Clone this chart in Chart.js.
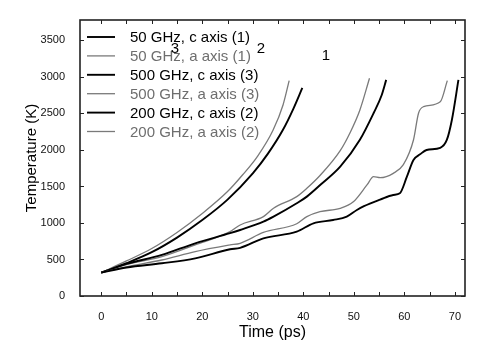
<!DOCTYPE html>
<html>
<head>
<meta charset="utf-8">
<script src="https://cdn.jsdelivr.net/npm/chart.js@4.4.0/dist/chart.umd.min.js"></script>
<style>
  html, body { margin: 0; padding: 0; background: #fff; }
  #wrap { width: 480px; height: 356px; }
</style>
</head>
<body>
<div id="wrap"><canvas id="c" width="480" height="356"></canvas></div>
<script>
// ---- data ----
const xTicks = [0, 10, 20, 30, 40, 50, 60, 70];
const yTicks = [0, 500, 1000, 1500, 2000, 2500, 3000, 3500];

const seriesLabels = [
  "50 GHz, c axis (1)", "50 GHz, a axis (1)",
  "500 GHz, c axis (3)", "500 GHz, a axis (3)",
  "200 GHz, c axis (2)", "200 GHz, a axis (2)"
];

const t_50c = [0,5,12,18.6,25.5,27.5,32.1,38.7,42,45.9,48.6,50.6,52,55.2,57.8,59.1,60.5,61.8,63.1,64.4,67.1,68.4,69.4,70.7];
const T_50c = [320,390,448,516,640,660,790,881,996,1041,1087,1178,1230,1320,1384,1407,1634,1863,1940,2000,2030,2137,2411,2959];

const t_50a = [0,5,12,18.6,25.5,27.5,32.1,38.7,40.7,43.3,47.3,49.9,52.6,53.9,55.2,57.8,59.8,61.8,62.8,63.8,67.1,68.5];
const T_50a = [320,400,493,607,699,722,870,990,1087,1155,1200,1290,1521,1634,1620,1680,1800,2137,2503,2593,2660,2950];

const t_500c = [0,5,10,15,20,25,30,33,36,38,39.8];
const T_500c = [320,450,600,800,1040,1320,1680,1950,2280,2560,2850];

const t_500a = [0,5,10,15,20,25,28,31,34,36,37.2];
const T_500a = [320,480,650,870,1130,1430,1660,1920,2270,2620,2950];

const t_200c = [0,5,12,18.6,25.5,27.5,32.1,34.1,38.7,40.7,43.5,47.3,51.2,53.9,55.5,56.4];
const T_200c = [320,440,562,722,860,904,1018,1087,1270,1361,1530,1772,2140,2503,2750,2960];

const t_200a = [0,5,12,18.6,25.5,27.5,32.1,34.1,38.7,40.7,43.3,47.3,49.2,51.2,53.1];
const T_200a = [320,430,539,700,881,973,1087,1201,1361,1475,1650,1990,2229,2548,2982];

const curveTags = ["3", "2", "1"];

// ---- build ----
const pts = (ts, Ts) => ts.map((t, i) => ({ x: t, y: Ts[i] }));
const BLACK = "#000000", GRAY = "#7a7a7a";
const seriesData = [
  pts(t_50c, T_50c), pts(t_50a, T_50a),
  pts(t_500c, T_500c), pts(t_500a, T_500a),
  pts(t_200c, T_200c), pts(t_200a, T_200a)
];
const datasets = seriesData.map((d, i) => {
  const isC = i % 2 === 0;
  return {
    label: seriesLabels[i],
    data: d,
    borderColor: isC ? BLACK : GRAY,
    borderWidth: isC ? 1.9 : 1.3,
    pointRadius: 0,
    fill: false,
    tension: 0.3,
    cubicInterpolationMode: 'monotone'
  };
});

const FONT = "Arial, 'Liberation Sans', sans-serif";

const framePlugin = {
  id: 'frame',
  afterDatasetsDraw(chart) {
    const { ctx, chartArea: a, scales: { x, y } } = chart;
    ctx.save();
    ctx.strokeStyle = '#222';
    ctx.lineWidth = 1.6;
    ctx.strokeRect(a.left, a.top, a.right - a.left, a.bottom - a.top);
    ctx.lineWidth = 1;
    const tl = 4;
    for (let v = 0; v <= 70; v += 5) {
      const px = Math.round(x.getPixelForValue(v)) + 0.5;
      ctx.beginPath();
      ctx.moveTo(px, a.bottom); ctx.lineTo(px, a.bottom - tl);
      ctx.moveTo(px, a.top); ctx.lineTo(px, a.top + tl);
      ctx.stroke();
    }
    yTicks.forEach(v => {
      const py = Math.round(y.getPixelForValue(v)) + 0.5;
      ctx.beginPath();
      ctx.moveTo(a.left, py); ctx.lineTo(a.left + tl, py);
      ctx.moveTo(a.right, py); ctx.lineTo(a.right - tl, py);
      ctx.stroke();
    });
    ctx.restore();
  }
};

const legendPlugin = {
  id: 'customLegend',
  afterDraw(chart) {
    const { ctx } = chart;
    ctx.save();
    const x0 = 87, x1 = 115, tx = 130, y0 = 37, dy = 18.9;
    chart.data.datasets.forEach((ds, i) => {
      const yy = y0 + i * dy;
      ctx.strokeStyle = ds.borderColor;
      ctx.lineWidth = ds.borderWidth;
      ctx.beginPath(); ctx.moveTo(x0, yy); ctx.lineTo(x1, yy); ctx.stroke();
      ctx.fillStyle = (i % 2 === 0) ? '#000' : '#6e6e6e';
      ctx.font = "15px " + FONT;
      ctx.textBaseline = 'middle';
      ctx.textAlign = 'left';
      ctx.fillText(ds.label, tx, yy + 1);
    });
    ctx.fillStyle = '#000';
    ctx.font = "15px " + FONT;
    ctx.textBaseline = 'middle';
    ctx.textAlign = 'center';
    ctx.fillText(curveTags[0], 175, 49);
    ctx.fillText(curveTags[1], 261, 49);
    ctx.fillText(curveTags[2], 326, 56);
    ctx.restore();
  }
};

new Chart(document.getElementById('c'), {
  type: 'line',
  data: { datasets },
  options: {
    responsive: false,
    animation: false,
    devicePixelRatio: 1,
    layout: { padding: { left: 0, right: 15, top: 20, bottom: 0 } },
    plugins: { legend: { display: false }, tooltip: { enabled: false } },
    scales: {
      x: {
        type: 'linear',
        min: -4.2, max: 72,
        grid: { display: false },
        border: { display: false },
        afterBuildTicks: s => { s.ticks = xTicks.map(v => ({ value: v })); },
        afterFit: s => { s.height = 60; },
        ticks: { color: '#111', font: { size: 11, family: FONT }, padding: 6, maxRotation: 0, callback: v => String(v) },
        title: { display: true, text: 'Time (ps)', color: '#000', font: { size: 16, family: FONT }, padding: { top: 0, bottom: 14 } }
      },
      y: {
        type: 'linear',
        min: 0, max: 3780,
        grid: { display: false },
        border: { display: false },
        afterBuildTicks: s => { s.ticks = yTicks.map(v => ({ value: v })); },
        afterFit: s => { s.width = 80; },
        ticks: { color: '#111', font: { size: 11, family: FONT }, padding: 7, callback: v => String(v) },
        title: { display: true, text: 'Temperature (K)', color: '#000', font: { size: 15, family: FONT }, padding: { top: 23, bottom: 0 } }
      }
    }
  },
  plugins: [framePlugin, legendPlugin]
});
</script>
</body>
</html>
